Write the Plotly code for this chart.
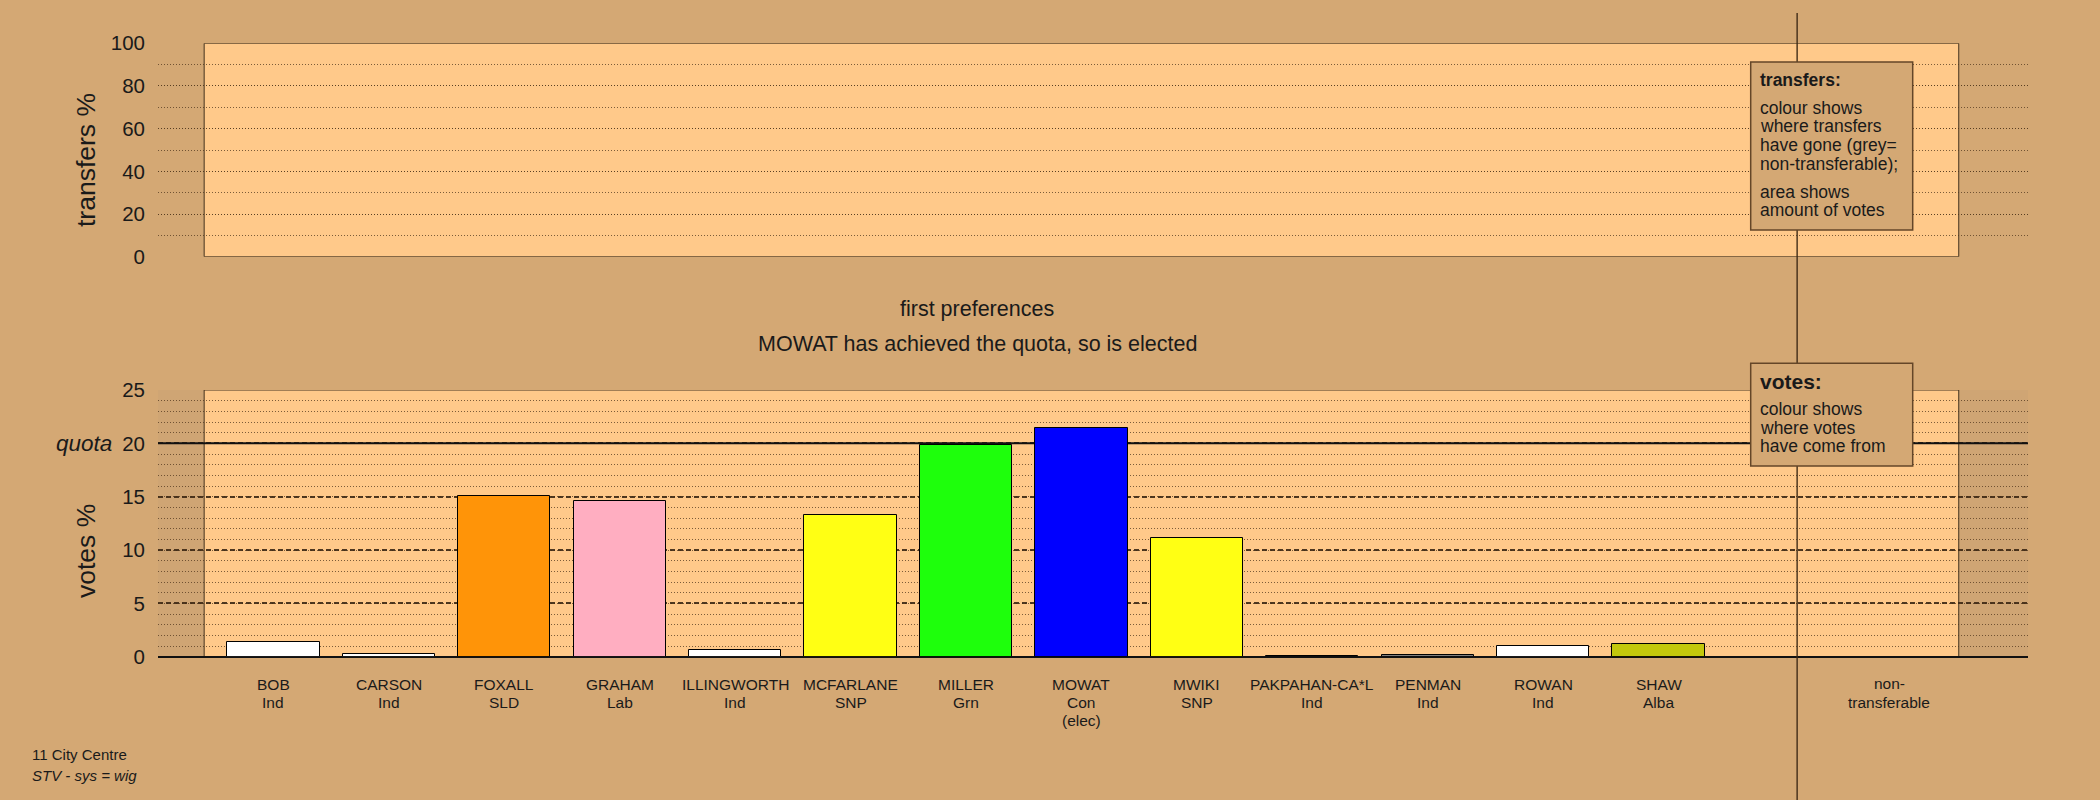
import plotly.graph_objects as go

# ---------------- data ----------------
candidates = ["BOB", "CARSON", "FOXALL", "GRAHAM", "ILLINGWORTH", "MCFARLANE", "MILLER",
              "MOWAT", "MWIKI", "PAKPAHAN-CA*L", "PENMAN", "ROWAN", "SHAW"]
parties = ["Ind", "Ind", "SLD", "Lab", "Ind", "SNP", "Grn", "Con", "SNP", "Ind", "Ind", "Ind", "Alba"]
status = ["", "", "", "", "", "", "", "(elec)", "", "", "", "", ""]
votes_pct = [1.35, 0.28, 15.1, 14.62, 0.6, 13.33, 19.85, 21.4, 11.12, 0.1, 0.2, 0.97, 1.2]
bar_colours = ["#FFFFFF", "#FFFFFF", "#FF9408", "#FFAEC1", "#FFFFFF", "#FFFF14", "#1EFF0C",
               "#0000FF", "#FFFF14", "#808080", "#808080", "#FFFFFF", "#C3C80C"]
nontransferable_label = ["non-", "transferable"]
quota = 20
top_ticks = [0, 20, 40, 60, 80, 100]
bottom_ticks = [0, 5, 10, 15, 20, 25]
title_lines = ["first preferences", "MOWAT has achieved the quota, so is elected"]
footer_lines = ["11 City Centre", "<i>STV - sys = wig</i>"]
transfers_legend = ["colour shows", "where transfers", "have gone (grey=", "non-transferable);",
                    "area shows", "amount of votes"]
votes_legend = ["colour shows", "where votes", "have come from"]

# ---------------- styling ----------------
W, H = 2100, 800
ML, MR = 158, 72
BG = "#D4A874"
BOX = "#FFC98A"
TXT = "#1a1a1a"
FONT = "Liberation Sans, Arial, sans-serif"
DOT = "rgba(80,55,30,0.75)"
DASH = "rgba(60,40,20,0.9)"


def px(x):
    return (x - ML) / (W - ML - MR)


def py(y):
    return (H - y) / H


xs = list(range(len(candidates)))
nt_x = len(candidates) + 1

fig = go.Figure()
fig.add_trace(go.Scatter(x=[None], y=[None], xaxis="x", yaxis="y", showlegend=False,
                         hoverinfo="skip"))
fig.add_trace(go.Bar(x=xs, y=votes_pct, width=0.8, xaxis="x", yaxis="y2",
                     marker=dict(color=bar_colours, line=dict(color="#000000", width=1)),
                     showlegend=False, hovertext=candidates))

shapes = []
# plot boxes
shapes.append(dict(type="rect", xref="x", yref="y", x0=-0.6, x1=14.6, y0=0, y1=100,
                   fillcolor=BOX, line=dict(color="rgba(50,35,20,0.9)", width=1), layer="below"))
shapes.append(dict(type="rect", xref="x", yref="y2", x0=-1.0, x1=-0.6, y0=0, y1=25,
                   fillcolor="#CFA574", line=dict(width=0), layer="below"))
shapes.append(dict(type="rect", xref="x", yref="y2", x0=14.6, x1=15.2, y0=0, y1=25,
                   fillcolor="#CFA574", line=dict(width=0), layer="below"))
shapes.append(dict(type="rect", xref="x", yref="y2", x0=-0.6, x1=14.6, y0=0, y1=25,
                   fillcolor=BOX, line=dict(color="rgba(50,35,20,0.9)", width=1), layer="below"))
# quota line
shapes.append(dict(type="line", xref="x", yref="y2", x0=-1.0, x1=15.2, y0=quota, y1=quota,
                   line=dict(color="#111111", width=2), layer="between"))
# divider line
shapes.append(dict(type="line", xref="x", yref="paper", x0=13.2, x1=13.2, y0=0, y1=py(13),
                   line=dict(color="rgba(60,40,20,0.9)", width=1.5), layer="above"))
# legend boxes
shapes.append(dict(type="rect", xref="paper", yref="paper", x0=px(1750.7), x1=px(1912.7),
                   y0=py(230), y1=py(62), fillcolor=BG,
                   line=dict(color="rgba(100,70,40,1)", width=1.5), layer="above"))
shapes.append(dict(type="rect", xref="paper", yref="paper", x0=px(1750.7), x1=px(1912.7),
                   y0=py(466), y1=py(363.3), fillcolor=BG,
                   line=dict(color="rgba(100,70,40,1)", width=1.5), layer="above"))

ann = []


def add_text(text, x, y, size, xanchor="center", xref="paper", angle=0):
    ann.append(dict(text=text, x=x, y=y, xref=xref, yref="paper", xanchor=xanchor,
                    yanchor="middle", showarrow=False, textangle=angle,
                    font=dict(size=size, color=TXT, family=FONT)))


# category labels
for i, (n, p, s) in enumerate(zip(candidates, parties, status)):
    add_text(n, i, py(684), 15.5, xref="x")
    add_text(p, i, py(702), 15.5, xref="x")
    if s:
        add_text(s, i, py(720), 15.5, xref="x")
add_text(nontransferable_label[0], nt_x, py(683), 15.5, xref="x")
add_text(nontransferable_label[1], nt_x, py(702), 15.5, xref="x")

# axis titles
add_text("transfers %", px(86), py(160), 26.5, angle=-90)
add_text("votes %", px(86), py(551), 26.5, angle=-90)
add_text("<i>quota</i>", px(114), py(443), 22.5, xanchor="right")

# titles
add_text(title_lines[0], px(977), py(309), 21.5)
add_text(title_lines[1], px(977), py(344), 21.5)

# footer
add_text(footer_lines[0], px(30), py(754), 15, xanchor="left")
add_text(footer_lines[1], px(30), py(775), 15, xanchor="left")

# legends
lx = px(1758.3)
add_text("<b>transfers:</b>", lx, py(80), 17.5, xanchor="left")
for t, y in zip(transfers_legend, [108, 126.5, 145, 164, 192, 210]):
    add_text(t, lx, py(y), 17.5, xanchor="left")
add_text("<b>votes:</b>", lx, py(381.7), 21, xanchor="left")
for t, y in zip(votes_legend, [409, 427.7, 446]):
    add_text(t, lx, py(y), 17.5, xanchor="left")

fig.update_layout(
    width=W, height=H,
    margin=dict(l=ML, r=MR, t=0, b=0, autoexpand=False),
    paper_bgcolor=BG, plot_bgcolor=BG,
    font=dict(family=FONT, color=TXT),
    bargap=0,
    shapes=shapes,
    annotations=ann,
    xaxis=dict(domain=[0, 1], range=[-1.0, 15.2], anchor="y2", showticklabels=False,
               showgrid=False, zeroline=False, showline=False, ticks="", fixedrange=True),
    yaxis=dict(domain=[py(256.7), py(43.3)], range=[0, 100], anchor="x",
               tickvals=top_ticks, ticktext=[str(v) for v in top_ticks],
               tickfont=dict(size=20.5, color=TXT, family=FONT), ticklabelstandoff=12,
               ticks="", showgrid=True, gridcolor=DOT, gridwidth=1, griddash="1px,2px",
               minor=dict(dtick=10, showgrid=True, gridcolor=DOT, gridwidth=1,
                          griddash="1px,2px"),
               zeroline=False, showline=False, fixedrange=True),
    yaxis2=dict(domain=[py(656.7), py(390)], range=[0, 25], anchor="x",
                tickvals=bottom_ticks, ticktext=[str(v) for v in bottom_ticks],
                tickfont=dict(size=20.5, color=TXT, family=FONT), ticklabelstandoff=12,
                ticks="", showgrid=True, gridcolor=DASH, gridwidth=1.5, griddash="5px,3px",
                minor=dict(dtick=1, showgrid=True, gridcolor=DOT, gridwidth=1,
                           griddash="1px,2px"),
                zeroline=True, zerolinecolor="#111111", zerolinewidth=2,
                showline=False, fixedrange=True),
)

fig.write_html(
    "out.html",
    config={"displayModeBar": False},
    post_script="document.body.style.margin='0px';document.body.style.overflow='hidden';"
                "document.body.style.background='" + BG + "';",
)
